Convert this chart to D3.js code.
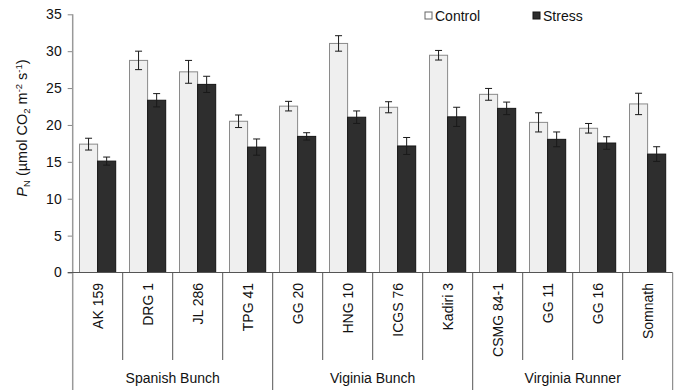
<!DOCTYPE html>
<html>
<head>
<meta charset="utf-8">
<style>
body { margin: 0; background: #fff; }
svg { font-family: "Liberation Sans", Arial, sans-serif; }
</style>
</head>
<body>
<svg id="chart" width="675" height="390"></svg>
<script src="https://cdn.jsdelivr.net/npm/d3@7"></script>
<script>
// data
var cultivars = ["AK 159", "DRG 1", "JL 286", "TPG 41", "GG 20", "HNG 10", "ICGS 76", "Kadiri 3", "CSMG 84-1", "GG 11", "GG 16", "Somnath"];
var groups = ["Spanish Bunch", "Viginia Bunch", "Virginia Runner"];
var groupSizes = [4, 4, 4];
var series = ["Control", "Stress"];
var controlVals = [17.4, 28.75, 27.2, 20.5, 22.55, 31.05, 22.4, 29.45, 24.15, 20.35, 19.55, 22.85];
var controlErr  = [0.8, 1.25, 1.55, 0.85, 0.65, 1.05, 0.75, 0.65, 0.8, 1.3, 0.65, 1.45];
var stressVals  = [15.1, 23.35, 25.5, 17.0, 18.45, 21.05, 17.15, 21.1, 22.25, 18.05, 17.55, 16.05];
var stressErr   = [0.55, 0.9, 1.1, 1.1, 0.5, 0.85, 1.15, 1.3, 0.85, 1.0, 0.85, 1.0];
var yTicks = [0, 5, 10, 15, 20, 25, 30, 35];

var svg = d3.select("#chart");
var mLeft = 72.7, mRight = 672.7, mTop = 14.3, mBottom = 272.5;

var x0 = d3.scaleBand().domain(cultivars).range([mLeft, mRight]).padding(0);
var x1 = d3.scaleBand().domain(series).range([6.8, 43]).padding(0);
var y = d3.scaleLinear().domain([0, 35]).range([mBottom, mTop]);

var fills = { Control: "#efefef", Stress: "#2e2e2e" };
var strokes = { Control: "#8a8a8a", Stress: "#151515" };

var rows = [];
cultivars.forEach(function(c, i) {
  rows.push({ cat: c, s: "Control", v: controlVals[i], e: controlErr[i] });
  rows.push({ cat: c, s: "Stress", v: stressVals[i], e: stressErr[i] });
});

// bars
svg.append("g").selectAll("rect").data(rows).enter().append("rect")
  .attr("x", function(d) { return x0(d.cat) + x1(d.s); })
  .attr("y", function(d) { return y(d.v); })
  .attr("width", x1.bandwidth())
  .attr("height", function(d) { return y(0) - y(d.v); })
  .attr("fill", function(d) { return fills[d.s]; })
  .attr("stroke", function(d) { return strokes[d.s]; })
  .attr("stroke-width", 1);

// error bars
var eb = svg.append("g").attr("stroke", "#1a1a1a").attr("stroke-width", 1)
  .selectAll("g").data(rows).enter().append("g")
  .attr("transform", function(d) { return "translate(" + (x0(d.cat) + x1(d.s) + x1.bandwidth() / 2) + ",0)"; });
eb.append("line").attr("y1", function(d) { return y(d.v + d.e); }).attr("y2", function(d) { return y(d.v - d.e); });
eb.append("line").attr("x1", -3.5).attr("x2", 3.5).attr("y1", function(d) { return y(d.v + d.e); }).attr("y2", function(d) { return y(d.v + d.e); });
eb.append("line").attr("x1", -3.5).attr("x2", 3.5).attr("y1", function(d) { return y(d.v - d.e); }).attr("y2", function(d) { return y(d.v - d.e); });

// y axis
var yAxis = svg.append("g").attr("transform", "translate(" + mLeft + ",0)")
  .call(d3.axisLeft(y).tickValues(yTicks).tickSize(5).tickPadding(6));
yAxis.select(".domain").remove();
yAxis.selectAll(".tick line").attr("stroke", "#888");
yAxis.selectAll("text").attr("font-size", 14).attr("fill", "#111").attr("font-family", "Liberation Sans, Arial, sans-serif");
svg.append("line").attr("x1", mLeft).attr("x2", mLeft).attr("y1", mTop).attr("y2", 390)
  .attr("stroke", "#999").attr("stroke-width", 1.5);

// x axis line
svg.append("line").attr("x1", mLeft - 5).attr("x2", mRight).attr("y1", mBottom).attr("y2", mBottom)
  .attr("stroke", "#555");

// category separators and labels
var xg = svg.append("g");
var cum = Array.from(d3.cumsum(groupSizes));
cultivars.forEach(function(c, i) {
  if (i === 0) return;
  var isGroupEdge = cum.indexOf(i) >= 0;
  xg.append("line").attr("x1", x0(c)).attr("x2", x0(c)).attr("y1", mBottom).attr("y2", isGroupEdge ? 390 : 360)
    .attr("stroke", "#555");
});
xg.append("line").attr("x1", mRight).attr("x2", mRight).attr("y1", mBottom).attr("y2", 390).attr("stroke", "#777");

xg.selectAll("text.cat").data(cultivars).enter().append("text")
  .attr("class", "cat")
  .attr("transform", function(d) { return "translate(" + (x0(d) + x0.bandwidth() / 2 + 5) + ",283) rotate(-90)"; })
  .attr("text-anchor", "end")
  .attr("font-size", 14).attr("fill", "#111")
  .text(function(d) { return d; });

var start = 0;
groups.forEach(function(g, i) {
  var a = x0(cultivars[start]);
  var b = x0(cultivars[start + groupSizes[i] - 1]) + x0.bandwidth();
  xg.append("text").attr("x", (a + b) / 2).attr("y", 383).attr("text-anchor", "middle")
    .attr("font-size", 14).attr("fill", "#111").text(g);
  start += groupSizes[i];
});

// y title
var yt = svg.append("text").attr("transform", "translate(26.5,128) rotate(-90)")
  .attr("text-anchor", "middle").attr("font-size", 14.5).attr("fill", "#111");
yt.append("tspan").attr("font-style", "italic").text("P");
yt.append("tspan").attr("font-size", 9.5).attr("dy", 3).text("N");
yt.append("tspan").attr("dy", -3).text(" (µmol CO");
yt.append("tspan").attr("font-size", 9.5).attr("dy", 3).text("2");
yt.append("tspan").attr("dy", -3).text(" m");
yt.append("tspan").attr("font-size", 9.5).attr("dy", -5).text("-2");
yt.append("tspan").attr("dy", 5).text(" s");
yt.append("tspan").attr("font-size", 9.5).attr("dy", -5).text("-1");
yt.append("tspan").attr("dy", 5).text(")");

// legend
var leg = svg.append("g");
var legX = [425, 533];
series.forEach(function(s, i) {
  leg.append("rect").attr("x", legX[i]).attr("y", 12).attr("width", 7).attr("height", 7)
    .attr("fill", i === 0 ? "#fff" : "#2e2e2e").attr("stroke", i === 0 ? "#666" : "#151515");
  leg.append("text").attr("x", legX[i] + 10).attr("y", 20.5).attr("font-size", 14).attr("fill", "#111").text(s);
});
</script>
</body>
</html>
